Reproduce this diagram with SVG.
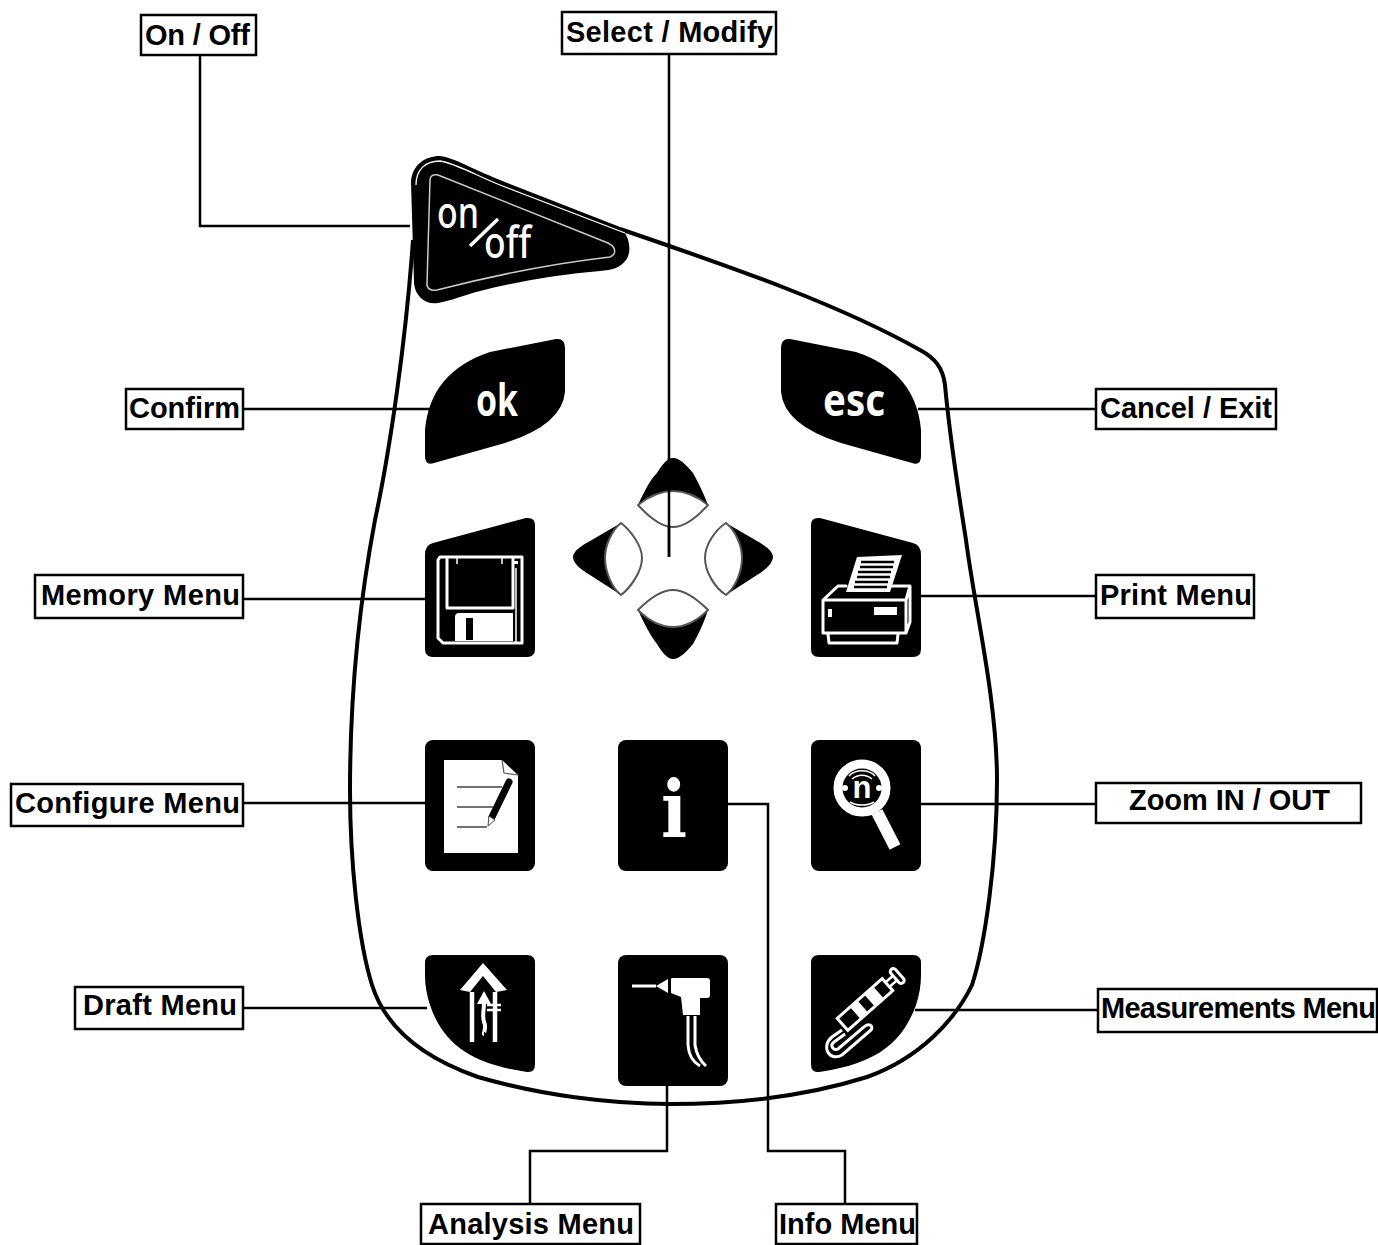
<svg xmlns="http://www.w3.org/2000/svg" width="1378" height="1245" viewBox="0 0 1378 1245">
<style>
.b{fill:#000}
.w{fill:#fff}
.wl{fill:none;stroke:#fff;stroke-width:3;stroke-linejoin:round;stroke-linecap:round}
.lb rect{fill:#fff;stroke:#000;stroke-width:2.5}
.lb text{font-family:"Liberation Sans",Arial,sans-serif;font-weight:700;font-size:29px;fill:#000}
.cn{fill:none;stroke:#000;stroke-width:2.5}
.key{font-family:"Noto Sans","Open Sans",sans-serif;fill:#fff}
.lens{fill:#fff;stroke:#555;stroke-width:2}
</style>
<rect width="1378" height="1245" fill="#fff"/>
<g id="body"><path d="M413,240C406,340 390,450 375,520C358,610 350,700 350,790C350,860 358,940 372,985C384,1023 415,1055 478,1077C540,1095 610,1104 670,1104C740,1104 810,1095 867,1077C920,1058 955,1020 972,985C985,945 997,860 997,780C997,700 975,610 966,540C958,490 950,440 945,385C943,368 935,358 920,350C840,305 740,270 620,229" fill="none" stroke="#000" stroke-width="4"/></g>
<g id="connectors" class="cn">
<path d="M200,55V226H410"/>
<path d="M669,54V557"/>
<path d="M243,409H430"/>
<path d="M918,409H1096"/>
<path d="M243,599H427"/>
<path d="M919,596H1096"/>
<path d="M243,803H427"/>
<path d="M919,804H1096"/>
<path d="M243,1008H427"/>
<path d="M915,1010H1098"/>
<path d="M726,804H768V1151H845V1204"/>
<path d="M667,1085V1151H530V1204"/>
</g>
<g id="key-onoff">
<path class="b" d="M411,182C412,165 425,156 440,156C455,158 470,168 500,180L620,227C630,236 632,252 626,260C620,268 612,270 600,271C560,274 520,281 480,291C465,295 450,301 438,303C425,305 415,296 414,283Z"/>
<path d="M416,185C416,170 425,161 440,161C455,163 475,175 500,185L625,233" fill="none" stroke="#fff" stroke-width="1.3"/>
<path d="M430,180C430,176 433,174 438,175L608,243C616,247 617,254 610,257C575,261 515,270 437,290C431,291 427,289 427,284Z" fill="none" stroke="#ccc" stroke-width="1.5"/>
<text class="key" x="437" y="228" font-size="44" font-weight="500" textLength="42" lengthAdjust="spacingAndGlyphs">on</text>
<path d="M470,246L498,219" stroke="#fff" stroke-width="3.5" fill="none"/>
<text class="key" x="484" y="258" font-size="44" font-weight="500" textLength="47" lengthAdjust="spacingAndGlyphs">off</text>
</g>
<g id="key-ok">
<path class="b" d="M556,339Q565,338 565,348L565,392Q562,425 505,443L434,463Q425,466 425,456L425,430Q430,372 490,352Z"/>
<text class="key" x="476" y="416" font-size="45" font-weight="700" textLength="42" lengthAdjust="spacingAndGlyphs">ok</text>
</g>
<g id="key-esc">
<path class="b" d="M790,339Q781,338 781,348L781,392Q784,425 841,443L912,463Q921,466 921,456L921,430Q916,372 856,352Z"/>
<text class="key" x="823" y="416" font-size="45" font-weight="700" textLength="62" lengthAdjust="spacingAndGlyphs">esc</text>
</g>
<g id="key-memory">
<path class="b" d="M425,555Q425,545 433,543L526,518Q535,517 535,525V649Q535,657 527,657H433Q425,657 425,649Z"/>
<path class="wl" d="M440,557H522V643H443L438,638V560Z" stroke-width="2.5"/>
<path class="wl" d="M447,559V608H513V559"/>
<path d="M457,558V564M502,558V564" stroke="#fff" stroke-width="1.5"/>
<path class="w" d="M459,613H513V641H455V617Q455,613 459,613Z"/>
<rect class="b" x="466" y="618" width="7" height="22"/>
<path d="M516,568V642" stroke="#fff" stroke-width="1.5"/>
<rect class="w" x="514" y="561" width="4" height="3"/>
</g>
<g id="key-print">
<path class="b" d="M921,555Q921,545 913,543L820,518Q811,517 811,525V649Q811,657 819,657H913Q921,657 921,649Z"/>
<path class="w" d="M857,557L902,555L890,592H846Z"/>
<path d="M861,562H894M860,567H893M858,572H891M857,577H890M855,582H888M854,587H887" stroke="#000" stroke-width="2.4"/>
<path class="wl" d="M846,586H838L823,600V633H906V600L910,586H890M823,600H906M906,633L910,622V586M828,634L829,643H897L898,634"/>
<rect class="w" x="874" y="607" width="23" height="8"/>
<rect class="w" x="828" y="609" width="4" height="8"/>
</g>
<g id="key-dpad">
<path class="b" d="M638,505C645,490 650,480 657,473C662,465 667,458 673,458C680,458 686,465 693,473C698,482 703,492 708,505C698,497 686,491 673,491C660,491 648,497 638,505Z"/>
<path class="lens" d="M638,505C648,497 660,491 673,491C686,491 698,497 708,505C698,516 685,527 673,527C660,527 648,516 638,505Z"/>
<path class="b" d="M621,523L590,541Q573,550 573,557Q573,565 590,575L621,595C612,588 605,572 605,558C605,545 612,530 621,523Z"/>
<path class="lens" d="M621,523C612,530 605,545 605,558C605,572 612,588 621,595C630,588 642,572 642,558C642,545 630,530 621,523Z"/>
<path class="b" d="M726,523L757,541Q773,550 773,557Q773,565 757,575L726,595C735,588 742,572 742,558C742,545 735,530 726,523Z"/>
<path class="lens" d="M726,523C735,530 742,545 742,558C742,572 735,588 726,595C715,588 705,572 705,558C705,545 715,530 726,523Z"/>
<path class="b" d="M638,610C645,625 650,635 657,644C662,652 667,659 673,659C680,659 686,652 693,644C698,635 703,625 708,610C698,620 686,627 673,627C660,627 648,620 638,610Z"/>
<path class="lens" d="M638,610C648,600 660,590 673,590C686,590 698,600 708,610C698,620 686,627 673,627C660,627 648,620 638,610Z"/>
<path d="M669,458V557" stroke="#000" stroke-width="2.5"/>
</g>
<g id="key-configure">
<rect class="b" x="425" y="740" width="110" height="131" rx="8"/>
<path class="w" d="M444,760H502L518,775V853H444Z"/>
<path d="M502,760L504,773L518,775" fill="none" stroke="#555" stroke-width="1.2"/>
<path d="M457,787H502M457,807H493M457,827H487" stroke="#444" stroke-width="1.6"/>
<path d="M509,782L492,817" stroke="#000" stroke-width="7" stroke-linecap="round"/>
<path d="M489,816L488,826L495,820Z" fill="#fff" stroke="#444"/>
</g>
<g id="key-info">
<rect class="b" x="618" y="740" width="110" height="131" rx="8"/>
<text transform="translate(674,837) scale(.88,1)" text-anchor="middle" font-family="'DejaVu Serif',serif" font-weight="700" font-size="78" fill="#fff">i</text>
</g>
<g id="key-zoom">
<rect class="b" x="811" y="740" width="110" height="131" rx="8"/>
<circle cx="862" cy="788" r="24" fill="none" stroke="#fff" stroke-width="9"/>
<path d="M877,812L895,847" stroke="#fff" stroke-width="12"/>
<path d="M849,776C855,769 869,769 875,776M852,779C858,774 866,774 872,779M850,802C856,806 868,806 874,802" fill="none" stroke="#fff" stroke-width="1.6"/>
<text x="862" y="798" text-anchor="middle" font-family="'Liberation Sans',sans-serif" font-weight="700" font-size="31" fill="#fff">n</text>
<circle cx="845" cy="788" r="3" fill="#fff"/>
<circle cx="879" cy="788" r="3" fill="#fff"/>
</g>
<g id="key-draft">
<path class="b" d="M433,955H527Q535,955 535,963V1064Q535,1073 527,1072C480,1065 445,1050 430,1005Q425,990 425,975V963Q425,955 433,955Z"/>
<path class="w" d="M483,963L507,990L496,992L483,976L470,992L460,990Z"/>
<path d="M472,992V1042M495,992V1042" stroke="#fff" stroke-width="4.5"/>
<path class="w" d="M484,991L491,1004H477Z"/>
<path d="M484,1002C484,1012 482,1015 484,1022C487,1028 483,1034 484,1034" fill="none" stroke="#fff" stroke-width="4"/>
<path d="M487,1005H501M487,1010H501" stroke="#fff" stroke-width="2.5"/>
</g>
<g id="key-analysis">
<rect class="b" x="618" y="955" width="110" height="131" rx="8"/>
<path d="M632,986H656" stroke="#fff" stroke-width="3"/>
<path class="w" d="M656,986L668,979V993Z"/>
<path class="w" d="M671,979Q671,978 673,978H707Q710,978 710,981V995Q710,998 707,998H700V1015H683L681,997L671,993Z"/>
<path d="M688,1016V1045Q689,1060 700,1066M695,1016V1045Q697,1058 706,1066" fill="none" stroke="#fff" stroke-width="3"/>
</g>
<g id="key-measure">
<path class="b" d="M819,955H913Q921,955 921,963V975Q921,990 916,1005C900,1050 866,1065 819,1072Q811,1073 811,1064V963Q811,955 819,955Z"/>
<g transform="translate(865,1004.5) rotate(-41.5)">
<rect x="-30" y="-8" width="60" height="16" fill="none" stroke="#fff" stroke-width="3"/>
<rect class="w" x="-13" y="-8" width="10" height="16"/>
<rect class="w" x="6" y="-8" width="12" height="16"/>
<path d="M30,-3H40M30,3H40" stroke="#fff" stroke-width="2.5"/>
<rect x="40" y="-9" width="6" height="18" rx="3" fill="none" stroke="#fff" stroke-width="3"/>
</g>
<path d="M842,1030L832,1037C820,1047 830,1062 842,1055L871,1030C874,1025 868,1023 864,1027L838,1049C834,1051 829,1046 834,1042L845,1034" fill="none" stroke="#fff" stroke-width="3"/>
</g>
<g class="lb">
<g id="label-onoff"><rect x="141" y="15" width="115" height="40"/><text x="145" y="45" textLength="105">On / Off</text></g>
<g id="label-select"><rect x="562" y="12" width="214" height="42"/><text x="566" y="42" textLength="207">Select / Modify</text></g>
<g id="label-confirm"><rect x="126" y="389" width="117" height="40"/><text x="129" y="418" textLength="111">Confirm</text></g>
<g id="label-cancel"><rect x="1096" y="389" width="180" height="40"/><text x="1100" y="418" textLength="172">Cancel / Exit</text></g>
<g id="label-memory"><rect x="35" y="575" width="208" height="43"/><text x="41" y="605" textLength="199">Memory Menu</text></g>
<g id="label-print"><rect x="1096" y="575" width="158" height="43"/><text x="1100" y="605" textLength="152">Print Menu</text></g>
<g id="label-configure"><rect x="11" y="784" width="232" height="42"/><text x="15" y="813" textLength="225">Configure Menu</text></g>
<g id="label-zoom"><rect x="1096" y="783" width="265" height="40"/><text x="1129" y="810" textLength="201">Zoom  IN / OUT</text></g>
<g id="label-draft"><rect x="75" y="987" width="168" height="42"/><text x="83" y="1015" textLength="154">Draft Menu</text></g>
<g id="label-measure"><rect x="1098" y="989" width="279" height="43"/><text x="1101" y="1018" textLength="275">Measurements Menu</text></g>
<g id="label-analysis"><rect x="421" y="1204" width="219" height="40"/><text x="428" y="1234" textLength="206">Analysis Menu</text></g>
<g id="label-info"><rect x="776" y="1204" width="141" height="40"/><text x="779" y="1234" textLength="137">Info Menu</text></g>
</g>
</svg>
